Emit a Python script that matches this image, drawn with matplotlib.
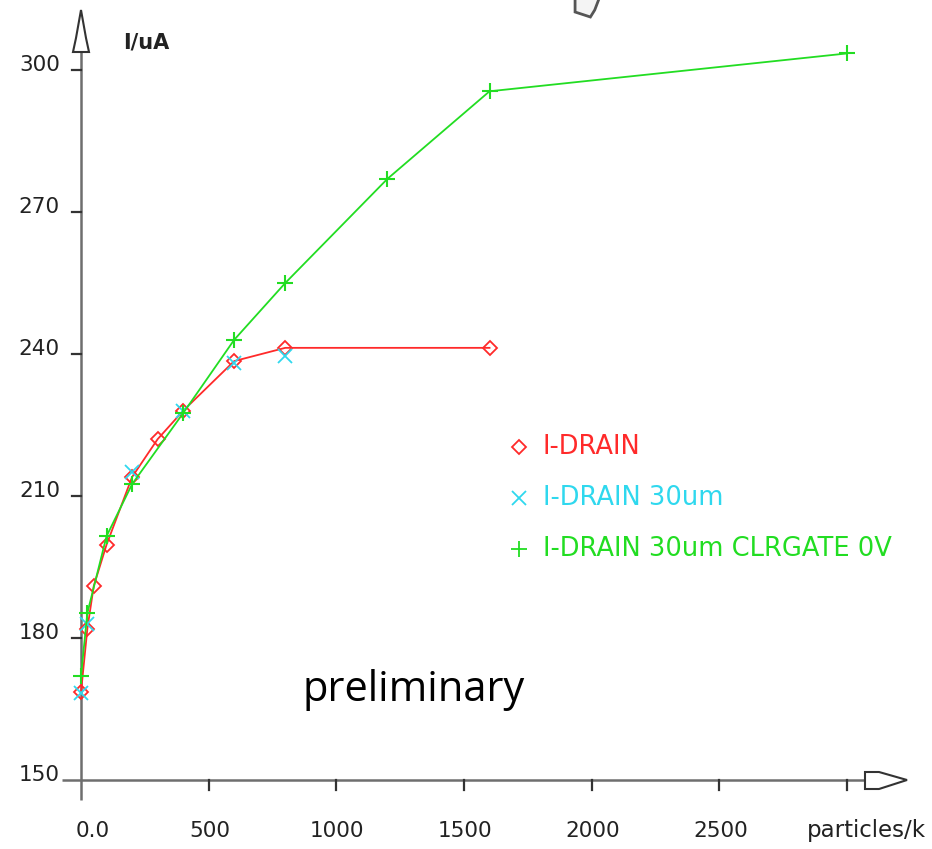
import matplotlib
matplotlib.use("Agg")
import matplotlib.pyplot as plt
from matplotlib.patches import Polygon

# measured drain current versus particle count
x_drain = [0, 25, 50, 100, 200, 300, 400, 600, 800, 1600]
y_drain = [168.5, 182, 191, 199.7, 214, 222, 228, 238.5, 241.3, 241.3]

x_drain30 = [0, 25, 200, 400, 600, 800]
y_drain30 = [168.3, 183, 215, 228, 238, 239.5]

x_clr = [0, 25, 100, 200, 400, 600, 800, 1200, 1600, 3000]
y_clr = [172, 185.3, 201.5, 212.5, 227.5, 243, 255, 277, 295.5, 303.5]

series_labels = ["I-DRAIN", "I-DRAIN 30um", "I-DRAIN 30um CLRGATE 0V"]
x_ticks = [0, 500, 1000, 1500, 2000, 2500, 3000]
x_ticklabels = ["0.0", "500", "1000", "1500", "2000", "2500", ""]
y_ticks = [150, 180, 210, 240, 270, 300]
y_ticklabels = ["150", "180", "210", "240", "270", "300"]

RED = "#ff2a2a"
CYAN = "#2fd8ee"
GREEN = "#22dd22"
AXC = "#6e6e6e"
FONT = "DejaVu Sans"

W, H = 932, 849
fig = plt.figure(figsize=(W / 100, H / 100), dpi=100)
ax = fig.add_axes([0, 0, 1, 1])

# pixel scale of the data axes
sx = 766 / 3000.0   # px per particle unit
sy = 710 / 150.0    # px per uA
x0_px, y150_px = 81, 780
ax.set_xlim(-x0_px / sx, (W - x0_px) / sx)
ax.set_ylim(150 - (H - y150_px) / sy, 150 + y150_px / sy)
ax.axis("off")


def dx(p):
    return p / sx


def dy(p):
    return p / sy


# axes lines
ax.plot([0, 0], [150 - dy(20), 300 + dy(19)], color=AXC, lw=1.8, zorder=1,
        solid_capstyle="butt")
ax.plot([-dx(19), 3000 + dx(18)], [150, 150], color=AXC, lw=1.8, zorder=1,
        solid_capstyle="butt")

# hollow arrow heads
ytop = 300 + dy(18)
yarrow = Polygon([(-dx(8), ytop), (-dx(5), ytop + dy(14)), (0, ytop + dy(42)),
                  (dx(5), ytop + dy(14)), (dx(8), ytop)],
                 closed=True, fill=False, edgecolor="#333333", lw=1.5, zorder=3)
ax.add_patch(yarrow)
xr = 3000 + dx(18)
xarrow = Polygon([(xr, 150 + dy(8)), (xr + dx(14), 150 + dy(8)),
                  (xr + dx(42), 150), (xr + dx(14), 150 - dy(9)),
                  (xr, 150 - dy(9))],
                 closed=True, fill=False, edgecolor="#333333", lw=1.5, zorder=3)
ax.add_patch(xarrow)

# ticks and tick labels
for v, lab in zip(y_ticks, y_ticklabels):
    if v != 150:
        ax.plot([-dx(9), 0], [v, v], color="#333333", lw=1.6, zorder=2)
    ax.text(-dx(21), v - dy(1), lab, ha="right", va="baseline", fontsize=15.5,
            family=FONT, color="#222222")
for v, lab in zip(x_ticks, x_ticklabels):
    if v != 0:
        ax.plot([v, v], [150, 150 - dy(10)], color="#333333", lw=1.6, zorder=2)
    if lab:
        xpos = v + (dx(12) if v == 0 else dx(1))
        ax.text(xpos, 150 - dy(51), lab, ha="center", va="center",
                fontsize=15.5, family=FONT, color="#222222")

ax.text(3000 - dx(40), 150 - dy(51), "particles/k", ha="left", va="center",
        fontsize=16.5, family=FONT, color="#222222")
ax.text(dx(42), 300 + dy(28), "I/uA", ha="left", va="center",
        fontsize=15, family=FONT, color="#222222", fontweight="bold")

# data series
ax.plot(x_drain, y_drain, color=RED, lw=1.3, marker="D", ms=7.5, mfc="none",
        mec=RED, mew=1.3, zorder=4)
ax.plot(x_drain30, y_drain30, color=CYAN, lw=0, marker="x", ms=10,
        mec=CYAN, mew=1.3, zorder=5)
ax.plot(x_clr, y_clr, color=GREEN, lw=1.3, marker="+", ms=12, mec=GREEN,
        mew=1.5, zorder=6)

# legend drawn as marker + text rows
leg_x = 1715
leg_rows = [(series_labels[0], "D", RED, 7), (series_labels[1], "x", CYAN, 10),
            (series_labels[2], "+", GREEN, 12)]
for i, (lab, mk, col, ms) in enumerate(leg_rows):
    yv = 150 + dy(780 - 447 - 51 * i)
    ax.plot([leg_x], [yv], marker=mk, ms=ms, mfc="none", mec=col, mew=1.3,
            lw=0)
    ax.text(leg_x + dx(24), yv, lab, ha="left", va="center", fontsize=18.5,
            family=FONT, color=col)

ax.text(1304, 150 + dy(780 - 690), "preliminary", ha="center", va="center",
        fontsize=30, family="Open Sans", color="black")

# partial gray shape at the top edge
shape = Polygon([(1935, 150 + dy(780 + 2)), (1935, 150 + dy(780 - 12)),
                 (1995, 150 + dy(780 - 17)), (2012, 150 + dy(780 - 10)),
                 (2030, 150 + dy(780 + 2))],
                closed=False, fill=True, facecolor="#f4f4f4",
                edgecolor="#555555", lw=2, zorder=3)
ax.add_patch(shape)

fig.savefig("out.png", dpi=100)
